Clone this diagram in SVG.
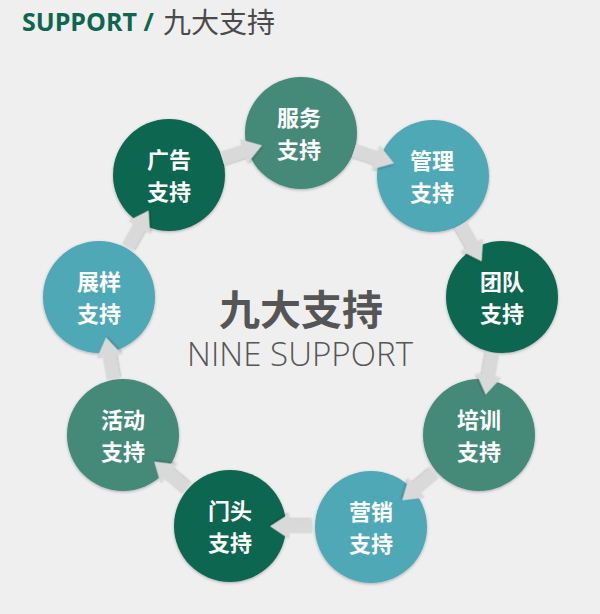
<svg xmlns="http://www.w3.org/2000/svg" width="600" height="614" viewBox="0 0 600 614">
<defs>
<style>
.bg{fill:#efefef}
.dark{fill:#0b6650}
.mid{fill:#448a79}
.teal{fill:#50a8b5}
.node circle{filter:url(#cs)}
.lbl{font-family:"Noto Sans CJK SC","Noto Sans",sans-serif;font-weight:bold;font-size:22px;fill:#ffffff;text-anchor:middle}
.arr{fill:#d9d9d9;filter:url(#as)}
</style>
<filter id="cs" x="-20%" y="-20%" width="140%" height="140%">
<feDropShadow dx="0" dy="1" stdDeviation="1.5" flood-color="#000" flood-opacity="0.28"/>
</filter>
<filter id="as" x="-30%" y="-30%" width="160%" height="160%">
<feDropShadow dx="0.5" dy="1" stdDeviation="1.2" flood-color="#000" flood-opacity="0.3"/>
</filter>
<path id="arrow" d="M-42,-6.5 L-19,-6.5 L-19,-12.5 L0,0 L-19,12.5 L-19,6.5 L-42,6.5 Z"/>
</defs>
<rect class="bg" x="0" y="0" width="600" height="614"/>
<g id="title">
<text x="22" y="31" font-family="'Open Sans','Liberation Sans',sans-serif" font-weight="bold" font-size="25" fill="#0e6650">SUPPORT /</text>
<text x="163" y="33" font-family="'Noto Sans CJK SC',sans-serif" font-size="28" fill="#4a4a4a">九大支持</text>
</g>
<g id="center">
<text x="301" y="325" text-anchor="middle" font-family="'Noto Sans CJK SC',sans-serif" font-weight="bold" font-size="41" fill="#555555">九大支持</text>
<text x="300" y="366" text-anchor="middle" font-family="'Open Sans','Liberation Sans',sans-serif" font-weight="300" font-size="33" fill="#555555" textLength="226" lengthAdjust="spacing">NINE SUPPORT</text>
</g>
<g id="n-fuwu" class="node"><circle class="mid" cx="301" cy="133" r="56"/><text class="lbl" x="299" y="126">服务<tspan x="299" dy="32">支持</tspan></text></g>
<g id="n-guanli" class="node"><circle class="teal" cx="433" cy="176" r="56"/><text class="lbl" x="432" y="169">管理<tspan x="432" dy="32">支持</tspan></text></g>
<g id="n-tuandui" class="node"><circle class="dark" cx="502" cy="297" r="56"/><text class="lbl" x="502" y="290">团队<tspan x="502" dy="32">支持</tspan></text></g>
<g id="n-peixun" class="node"><circle class="mid" cx="479" cy="435" r="56"/><text class="lbl" x="479" y="428">培训<tspan x="479" dy="32">支持</tspan></text></g>
<g id="n-yingxiao" class="node"><circle class="teal" cx="371" cy="527" r="56"/><text class="lbl" x="371" y="520">营销<tspan x="371" dy="32">支持</tspan></text></g>
<g id="n-mentou" class="node"><circle class="dark" cx="230" cy="526" r="56"/><text class="lbl" x="230" y="519">门头<tspan x="230" dy="32">支持</tspan></text></g>
<g id="n-huodong" class="node"><circle class="mid" cx="123" cy="435" r="56"/><text class="lbl" x="123" y="428">活动<tspan x="123" dy="32">支持</tspan></text></g>
<g id="n-zhanyang" class="node"><circle class="teal" cx="99" cy="297" r="56"/><text class="lbl" x="99" y="290">展样<tspan x="99" dy="32">支持</tspan></text></g>
<g id="n-guanggao" class="node"><circle class="dark" cx="169" cy="175" r="56"/><text class="lbl" x="169" y="168">广告<tspan x="169" dy="32">支持</tspan></text></g>
<g id="connectors">
<use href="#arrow" class="arr" transform="translate(262,145.4) rotate(-17.65)"/>
<use href="#arrow" class="arr" transform="translate(394,163.3) rotate(18.04)"/>
<use href="#arrow" class="arr" transform="translate(481.7,261.4) rotate(60.3)"/>
<use href="#arrow" class="arr" transform="translate(485.7,394.6) rotate(99.5)"/>
<use href="#arrow" class="arr" transform="translate(402.2,500.4) rotate(139.6)"/>
<use href="#arrow" class="arr" transform="translate(270,526.3) rotate(180.4)"/>
<use href="#arrow" class="arr" transform="translate(154.2,461.6) rotate(220.4)"/>
<use href="#arrow" class="arr" transform="translate(106,337.4) rotate(260.1)"/>
<use href="#arrow" class="arr" transform="translate(148.6,210.5) rotate(-60.15)"/>
</g>
</svg>
